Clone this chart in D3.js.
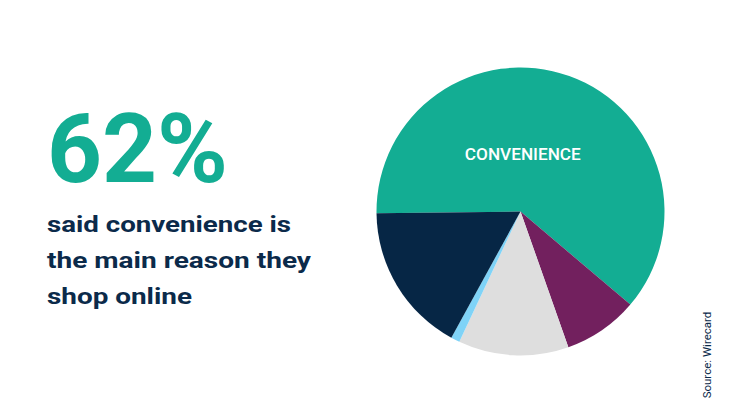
<!DOCTYPE html>
<html>
<head>
<meta charset="utf-8">
<script src="https://cdn.jsdelivr.net/npm/d3@7"></script>
<style>
  html, body { margin: 0; padding: 0; background: #ffffff; }
  svg { display: block; }
</style>
</head>
<body>
<svg id="chart" width="730" height="418"></svg>
<script>
// ---- data ----
const categories = ["Convenience", "Reason B", "Reason C", "Reason D", "Reason E"];
const values = [62, 8.5, 12.5, 1, 17];
const colors = ["#13ad93", "#72205e", "#dedede", "#7fd3f7", "#062645"];
const sliceLabels = ["CONVENIENCE", "", "", "", ""];
const headline = "62%";
const subtitleLines = ["said convenience is", "the main reason they", "shop online"];
const sourceText = "Source: Wirecard";

// ---- layout ----
const svg = d3.select("#chart");
const cx = 520.5, cy = 211.5, r = 144;
const start = -90.7 * Math.PI / 180;

const pie = d3.pie().sort(null).value(d => d).startAngle(start).endAngle(start + 2 * Math.PI);
const arc = d3.arc().innerRadius(0).outerRadius(r);
const arcs = pie(values);

const g = svg.append("g").attr("transform", `translate(${cx},${cy})`);
g.selectAll("path.slice")
  .data(arcs)
  .join("path")
  .attr("class", "slice")
  .attr("d", arc)
  .attr("fill", (d, i) => colors[i]);

// slice label
g.append("text")
  .attr("x", 2.3)
  .attr("y", 159.5 - cy)
  .attr("text-anchor", "middle")
  .attr("fill", "#ffffff")
  .attr("font-family", "Roboto, sans-serif")
  .attr("font-weight", 500)
  .attr("font-size", 16.5)
  .attr("textLength", 116)
  .attr("lengthAdjust", "spacingAndGlyphs")
  .text(sliceLabels[0]);

// headline
svg.append("text")
  .attr("x", 47)
  .attr("y", 182)
  .attr("fill", "#13ad93")
  .attr("font-family", "Roboto, sans-serif")
  .attr("font-weight", 700)
  .attr("font-size", 97)
  .attr("textLength", 181)
  .attr("lengthAdjust", "spacingAndGlyphs")
  .text(headline);

// subtitle
const subWidths = [244, 264, 145];
const subBase = [231.5, 268, 304];
svg.selectAll("text.sub")
  .data(subtitleLines)
  .join("text")
  .attr("class", "sub")
  .attr("x", 47)
  .attr("y", (d, i) => subBase[i])
  .attr("fill", "#0b2a4a")
  .attr("font-family", "Roboto, sans-serif")
  .attr("font-weight", 700)
  .attr("font-size", 22)
  .attr("textLength", (d, i) => subWidths[i])
  .attr("lengthAdjust", "spacingAndGlyphs")
  .text(d => d);

// source
svg.append("text")
  .attr("transform", "translate(711,355) rotate(-90)")
  .attr("text-anchor", "middle")
  .attr("fill", "#0b2a4a")
  .attr("font-family", "Roboto, sans-serif")
  .attr("font-size", 11.5)
  .text(sourceText);
</script>
</body>
</html>
